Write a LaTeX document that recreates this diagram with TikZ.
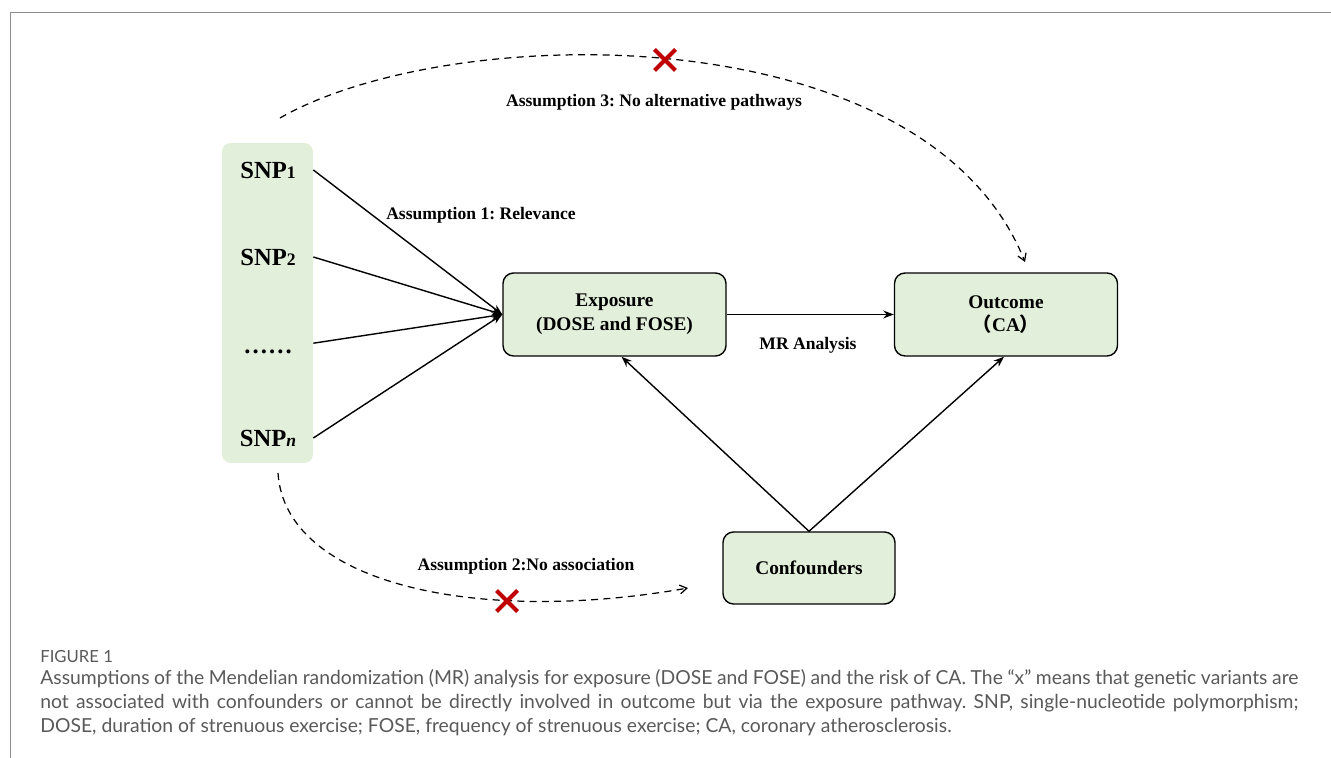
\documentclass[tikz,border=0pt]{standalone}
\usepackage{fontspec}
\setmainfont{Liberation Serif}
\newfontfamily\capfont{Lato}
\newfontfamily\cjk{Noto Sans CJK SC}
\usetikzlibrary{arrows.meta}
\frenchspacing

\definecolor{boxgreen}{HTML}{E2EFDA}
\definecolor{crossred}{HTML}{C00000}
\definecolor{capgray}{HTML}{595959}
\definecolor{framegray}{HTML}{8C8C8C}

\newcommand{\snpsub}[1]{{\fontsize{10}{12}\selectfont #1}}

\tikzset{
  mainbox/.style={draw, line width=0.8pt, rounded corners=6pt, fill=boxgreen,
    minimum width=4.46cm, minimum height=1.66cm, align=center,
    font=\fontsize{11}{13.5}\selectfont\bfseries},
  snplabel/.style={font=\fontsize{14}{16}\selectfont\bfseries},
  steplabel/.style={font=\fontsize{10}{12}\selectfont\bfseries},
  link/.style={line width=0.8pt, -{Stealth[length=6pt,width=4.5pt]}},
  assume/.style={line width=0.7pt, dash pattern=on 4pt off 3pt,
    -{Straight Barb[length=4pt,width=5pt]}},
  xmark/.style={crossred, line width=2.3pt},
}

\begin{document}
\begin{tikzpicture}
  \useasboundingbox (0,0) rectangle (26.62,15.16);
  % Frame
  \draw[framegray, line width=0.5pt] (26.62,14.92) -- (0.2,14.92) -- (0.2,0);

  % SNP column
  \node[fill=boxgreen, rounded corners=5pt, minimum width=1.82cm,
        minimum height=6.4cm] (col) at (5.35,9.1) {};
  \node[snplabel] (snp1) at (5.36,11.76) {SNP\snpsub{1}};
  \node[snplabel] (snp2) at (5.36,10.02) {SNP\snpsub{2}};
  \node[snplabel] (dots) at (5.36,8.12) {.\kern1.2pt.\kern1.2pt.\kern1.2pt.\kern1.2pt.\kern1.2pt.};
  \node[snplabel] (snpn) at (5.36,6.4) {SNP\snpsub{\textit{n}}};

  % Boxes
  \node[mainbox] (expo) at (12.29,8.87) {Exposure\\(DOSE and FOSE)};
  \node[mainbox] (outc) at (20.12,8.87) {Outcome\\{\cjk （}CA{\cjk ）}};
  \node[mainbox, minimum width=3.44cm, minimum height=1.44cm] (conf)
       at (16.18,3.80) {Confounders};

  % Arrows
  \draw[link] (snp1 -| col.east) -- (expo.west);
  \draw[link] (snp2 -| col.east) -- (expo.west);
  \draw[link] ([yshift=5pt]dots -| col.east) -- (expo.west);
  \draw[link] (snpn -| col.east) -- (expo.west);
  \draw[link] (expo) -- (outc);
  \draw[link] (conf.north) -- ([xshift=1.4mm]expo.south);
  \draw[link] (conf.north) -- ([xshift=-0.4mm]outc.south);

  % Dashed pathways
  \coordinate (a3s) at (5.6,12.8);
  \coordinate (a3e) at (20.5,9.92);
  \coordinate (a2s) at (5.56,5.7);
  \coordinate (a2e) at (13.76,3.4);
  \draw[assume] (a3s) .. controls (9,14.75) and (18.5,14.9) .. (a3e);
  \draw[assume] (a2s) .. controls (5.7,3.5) and (9.5,2.65) .. (a2e);

  % Crosses
  \coordinate (x3) at (13.3,13.96);
  \coordinate (x2) at (10.14,3.14);
  \draw[xmark, shift={(x3)}] (-0.21,-0.21) -- (0.21,0.21) (-0.21,0.21) -- (0.21,-0.21);
  \draw[xmark, shift={(x2)}] (-0.21,-0.21) -- (0.21,0.21) (-0.21,0.21) -- (0.21,-0.21);

  % Labels
  \node[steplabel] (lab1) at (9.62,10.86) {Assumption 1: Relevance};
  \node[steplabel] (lab2) at (10.52,3.84) {Assumption 2:No association};
  \node[steplabel] (lab3) at (13.08,13.12) {Assumption 3: No alternative pathways};
  \node[steplabel] (labmr) at (16.16,8.26) {MR Analysis};

  % Caption
  \node[anchor=base west, inner sep=0pt, text=capgray,
        font=\capfont\fontsize{9.5}{11}\selectfont] (fig) at (0.8,1.9) {FIGURE 1};
  \node[anchor=north west, inner sep=0pt, text=capgray, text width=25.16cm,
        align=justify, font=\capfont\fontsize{11}{13.6}\selectfont] (cap)
       at (0.8,1.78) {Assumptions of the Mendelian randomization (MR) analysis for
    exposure (DOSE and FOSE) and the risk of CA. The “x” means that genetic variants are\linebreak
    not associated with confounders or cannot be directly involved in outcome but via the
    exposure pathway. SNP, single-nucleotide polymorphism;\linebreak
    DOSE, duration of strenuous exercise; FOSE, frequency of strenuous exercise; CA,
    coronary atherosclerosis.};
\end{tikzpicture}
\end{document}
